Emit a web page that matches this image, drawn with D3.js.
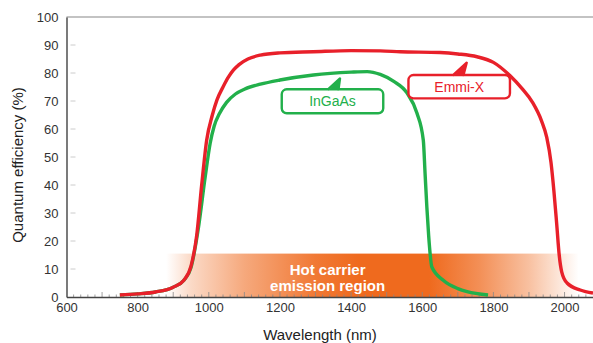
<!DOCTYPE html>
<html><head><meta charset="utf-8">
<script src="https://cdn.jsdelivr.net/npm/d3@7"></script>
<style>body{margin:0;background:#fff}svg{display:block;font-family:"Liberation Sans",Arial,sans-serif}</style>
</head><body>
<script>
const xTickValues = [600, 800, 1000, 1200, 1400, 1600, 1800, 2000];
const yTickValues = [0, 10, 20, 30, 40, 50, 60, 70, 80, 90, 100];
const emmiWl = [750, 800, 850, 900, 930, 950, 966, 980, 994, 1010, 1023, 1040, 1055, 1069, 1085, 1110, 1145, 1200, 1294, 1400, 1482, 1538, 1650, 1700, 1754, 1800, 1847, 1880, 1910, 1935, 1950, 1962, 1970, 1978, 1985, 1992, 2007, 2044, 2080];
const emmiQE = [0.7, 1.1, 1.8, 3.5, 6, 11, 22, 40, 56, 65, 70.4, 75, 78.5, 81, 83, 85, 86.4, 87.2, 87.6, 88, 87.9, 87.6, 87.3, 86.8, 85.8, 83.8, 79, 74.5, 69.5, 63, 57, 48, 38, 26, 15, 9, 5, 2.5, 1.4];
const ingaasWl = [750, 800, 850, 900, 930, 950, 970, 990, 1004, 1015, 1030, 1050, 1075, 1100, 1145, 1200, 1294, 1400, 1445, 1482, 1520, 1557, 1585, 1603, 1608, 1613, 1618, 1627, 1659, 1700, 1726, 1785];
const ingaasQE = [0.7, 1.1, 1.8, 3.5, 6, 10.5, 24, 43, 55, 61, 65.5, 69.5, 72.5, 74.2, 76, 77.5, 79.3, 80.3, 80.5, 79.5, 77, 72.9, 65.7, 56, 44, 32, 22, 10.7, 6, 3, 1.9, 0.7];
const bandRange = [880, 2040];
const bandTop = 15.5;
const bandLabel = ["Hot carrier", "emission region"];
const seriesNames = ["InGaAs", "Emmi-X"];

const W = 593, H = 343;
const x = d3.scaleLinear().domain([600, 2080]).range([66.5, 593]);
const y = d3.scaleLinear().domain([0, 100]).range([297, 17]);
const svg = d3.select("body").append("svg").attr("width", W).attr("height", H);

const defs = svg.append("defs");
const grad = defs.append("linearGradient").attr("id", "band").attr("gradientUnits", "userSpaceOnUse")
  .attr("x1", x(bandRange[0])).attr("x2", x(bandRange[1])).attr("y1", 0).attr("y2", 0);
const stops = [[880, 0], [950, 0.25], [1100, 0.58], [1200, 0.74], [1300, 0.9], [1420, 1], [1620, 1], [1760, 0.75], [1900, 0.42], [2040, 0]];
stops.forEach(([w, o]) => grad.append("stop")
  .attr("offset", (w - bandRange[0]) / (bandRange[1] - bandRange[0]))
  .attr("stop-color", "#ef6a1e").attr("stop-opacity", o));

svg.append("rect").attr("x", x(bandRange[0])).attr("width", x(bandRange[1]) - x(bandRange[0]))
  .attr("y", y(bandTop)).attr("height", y(0) - y(bandTop)).attr("fill", "url(#band)");

svg.append("text").attr("text-anchor", "middle").attr("fill", "#fff")
  .attr("font-weight", "bold").attr("font-size", 15)
  .selectAll("tspan").data(bandLabel).join("tspan")
  .attr("x", x(1334)).attr("y", (d, i) => 275 + i * 16).text(d => d);

// top border
svg.append("line").attr("x1", x(600)).attr("x2", W).attr("y1", y(100)).attr("y2", y(100))
  .attr("stroke", "#888").attr("stroke-width", 1.2);

// y axis
const yAxis = d3.axisLeft(y).tickValues(yTickValues).tickSize(0).tickPadding(8);
const gy = svg.append("g").attr("transform", `translate(${x(600)},0)`).call(yAxis);
gy.select(".domain").attr("stroke", "#222").attr("stroke-width", 1.2);
gy.selectAll("text").attr("font-size", 13).attr("fill", "#333").attr("font-family", "Liberation Sans, Arial, sans-serif");
svg.append("g").selectAll("line").data(yTickValues.filter(v => v > 0 && v < 100)).join("line")
  .attr("x1", x(600) + 4).attr("x2", x(600) + 9).attr("y1", d => y(d)).attr("y2", d => y(d))
  .attr("stroke", "#ccc").attr("stroke-width", 1);

// x axis
const minor = d3.range(620, 2080, 20).filter(v => v % 100 !== 0);
const major = d3.range(700, 2080, 100);
svg.append("g").selectAll("line").data(minor).join("line")
  .attr("x1", d => x(d)).attr("x2", d => x(d)).attr("y1", y(0)).attr("y2", y(0) - 2.5)
  .attr("stroke", "#888").attr("stroke-width", 0.8);
svg.append("g").selectAll("line").data(major).join("line")
  .attr("x1", d => x(d)).attr("x2", d => x(d)).attr("y1", y(0)).attr("y2", y(0) - 5)
  .attr("stroke", "#888").attr("stroke-width", 0.8);
const xAxis = d3.axisBottom(x).tickValues(xTickValues).tickSize(0).tickPadding(6).tickFormat(d3.format("d"));
const gx = svg.append("g").attr("transform", `translate(0,${y(0)})`).call(xAxis);
gx.select(".domain").attr("stroke", "#444").attr("stroke-width", 1.5);
gx.selectAll("text").attr("font-size", 13).attr("fill", "#333").attr("font-family", "Liberation Sans, Arial, sans-serif");

// titles
svg.append("text").attr("x", 320).attr("y", 340).attr("text-anchor", "middle")
  .attr("font-size", 15).attr("fill", "#222").text("Wavelength (nm)");
svg.append("text").attr("transform", "translate(23,165) rotate(-90)").attr("text-anchor", "middle")
  .attr("font-size", 15).attr("fill", "#222").text("Quantum efficiency (%)");

// curves
const line = d3.line().x(d => x(d[0])).y(d => y(d[1])).curve(d3.curveMonotoneX);
const clip = defs.append("clipPath").attr("id", "clip").append("rect")
  .attr("x", x(600)).attr("y", 0).attr("width", W - x(600)).attr("height", y(0));
const g = svg.append("g").attr("clip-path", "url(#clip)");
g.append("path").datum(d3.zip(ingaasWl, ingaasQE)).attr("d", line)
  .attr("fill", "none").attr("stroke", "#22b04b").attr("stroke-width", 3.4).attr("stroke-linejoin", "round");
g.append("path").datum(d3.zip(emmiWl, emmiQE)).attr("d", line)
  .attr("fill", "none").attr("stroke", "#e8202a").attr("stroke-width", 3.4).attr("stroke-linejoin", "round");

// callouts
function callout(cx, cy, w, h, tip, base, color, label) {
  const x0 = cx - w / 2, y0 = cy - h / 2, r = 5;
  const p = d3.path();
  p.moveTo(x0 + r, y0);
  p.lineTo(base[0], y0);
  p.lineTo(tip[0], tip[1]);
  p.lineTo(base[1], y0);
  p.lineTo(x0 + w - r, y0);
  p.arcTo(x0 + w, y0, x0 + w, y0 + r, r);
  p.lineTo(x0 + w, y0 + h - r);
  p.arcTo(x0 + w, y0 + h, x0 + w - r, y0 + h, r);
  p.lineTo(x0 + r, y0 + h);
  p.arcTo(x0, y0 + h, x0, y0 + h - r, r);
  p.lineTo(x0, y0 + r);
  p.arcTo(x0, y0, x0 + r, y0, r);
  p.closePath();
  svg.append("path").attr("d", p.toString()).attr("fill", "#fff").attr("stroke", color)
    .attr("stroke-width", 2.4).attr("stroke-linejoin", "round");
  svg.append("path").attr("d", `M${base[0]},${y0 + 1.2}L${tip[0]},${tip[1]}L${base[1]},${y0 + 1.2}Z`).attr("fill", color);
  svg.append("text").attr("x", cx).attr("y", cy + 5).attr("text-anchor", "middle")
    .attr("font-size", 14).attr("fill", color).text(label);
}
callout(332.5, 101.3, 101.5, 24, [340, 78.5], [328, 338.5], "#22b04b", seriesNames[0]);
callout(459.2, 86.7, 101.5, 23.3, [466.7, 62.7], [453, 463.5], "#e8202a", seriesNames[1]);
</script>
</body></html>
